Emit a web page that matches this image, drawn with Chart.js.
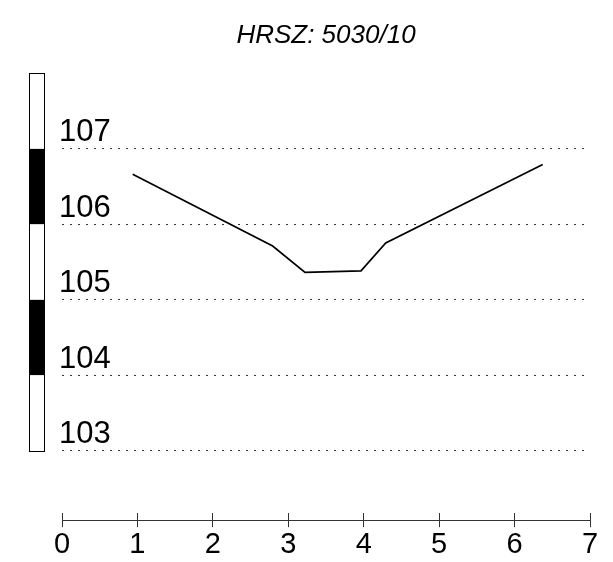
<!DOCTYPE html>
<html>
<head>
<meta charset="utf-8">
<script src="https://cdn.jsdelivr.net/npm/chart.js@4/dist/chart.umd.min.js"></script>
<style>
  html, body { margin: 0; padding: 0; background: #fff; }
  #wrap { width: 613px; height: 562px; }
</style>
</head>
<body>
<div id="wrap"><canvas id="c"></canvas></div>
<script>
// profile of the parcel (distance, elevation)
const distances = [0.937, 2.793, 3.222, 3.964, 4.292, 6.373];
const elevations = [106.66, 105.71, 105.36, 105.38, 105.75, 106.79];
const yTicks = [103, 104, 105, 106, 107];
const xTicks = [0, 1, 2, 3, 4, 5, 6, 7];
// levelling rod: 1 m segments, bottom to top
const rodBreaks = [103, 104, 105, 106, 107, 108];
const rodColors = ['#fff', '#000', '#fff', '#000', '#fff'];

const FONT = "'Liberation Sans', Arial, sans-serif";

// draws the rod left of the plot and the x axis line through the tick marks
const decor = {
  id: 'decor',
  beforeDatasetsDraw(chart) {
    const { ctx, chartArea, scales } = chart;
    const y = scales.y, x = scales.x;
    const left = chartArea.left - 33, w = 15;
    ctx.save();
    for (let i = 0; i < rodColors.length; i++) {
      const top = y.getPixelForValue(rodBreaks[i + 1]);
      const bot = y.getPixelForValue(rodBreaks[i]);
      ctx.fillStyle = rodColors[i];
      ctx.fillRect(left, top, w, bot - top);
    }
    ctx.strokeStyle = '#000';
    ctx.lineWidth = 1;
    const rt = Math.round(y.getPixelForValue(rodBreaks[rodBreaks.length - 1])) + 0.5;
    const rb = Math.round(y.getPixelForValue(rodBreaks[0])) + 0.5;
    ctx.strokeRect(left + 0.5, rt, w, rb - rt);
    // x axis line
    const ay = Math.round(chartArea.bottom + 7) + 0.5;
    ctx.strokeStyle = '#333';
    ctx.beginPath();
    ctx.moveTo(x.getPixelForValue(xTicks[0]), ay);
    ctx.lineTo(x.getPixelForValue(xTicks[xTicks.length - 1]), ay);
    ctx.stroke();
    ctx.restore();
  }
};

new Chart(document.getElementById('c'), {
  type: 'line',
  data: {
    datasets: [{
      data: distances.map((d, i) => ({ x: d, y: elevations[i] })),
      borderColor: '#000',
      borderWidth: 1.7,
      pointRadius: 0,
      tension: 0,
      fill: false
    }]
  },
  options: {
    responsive: true,
    maintainAspectRatio: false,
    animation: false,
    layout: { padding: { left: 62, right: 23, top: 0, bottom: 0 } },
    plugins: {
      legend: { display: false },
      tooltip: { enabled: false },
      title: {
        display: true,
        text: 'HRSZ: 5030/10',
        color: '#000',
        font: { family: FONT, size: 26, style: 'italic', weight: 'normal' },
        padding: { top: 20, bottom: 22 }
      }
    },
    scales: {
      x: {
        type: 'linear',
        min: 0,
        max: 7,
        afterBuildTicks: s => { s.ticks = xTicks.map(v => ({ value: v })); },
        grid: { drawOnChartArea: false, drawTicks: true, tickLength: 14, tickColor: '#333', lineWidth: 1 },
        border: { display: false },
        ticks: { color: '#000', padding: 0, font: { family: FONT, size: 29 } }
      },
      y: {
        type: 'linear',
        min: 102.17,
        max: 108,
        afterBuildTicks: s => { s.ticks = yTicks.map(v => ({ value: v })); },
        grid: { color: '#333', lineWidth: 1, drawTicks: false },
        border: { display: false, dash: [2, 6] },
        ticks: {
          mirror: true,
          padding: -1,
          labelOffset: -16,
          color: '#000',
          font: { family: FONT, size: 31 }
        }
      }
    }
  },
  plugins: [decor]
});
</script>
</body>
</html>
